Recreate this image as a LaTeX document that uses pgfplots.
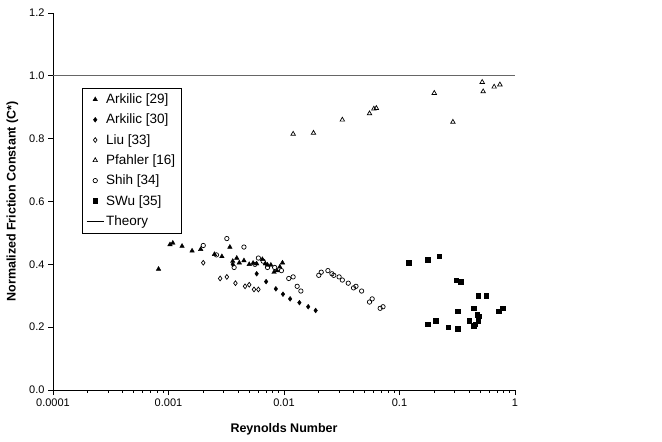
\documentclass[border=0pt]{standalone}
\usepackage{fontspec}
\setmainfont{Liberation Sans}
\usepackage{pgfplots}
\pgfplotsset{compat=1.18}

\begin{document}
\begin{tikzpicture}
\begin{axis}[
  name=ax, scale only axis, width=462pt, height=377pt,
  xmode=log, xmin=0.0001, xmax=1, ymin=0, ymax=1.2,
  axis lines=left, axis line style={-, line width=0.8pt},
  tick align=outside, major tick length=5pt, tick style={black, line width=0.8pt},
  xtick={0.0001,0.001,0.01,0.1,1},
  xticklabels={0.0001,0.001,0.01,0.1,1},
  minor xtick={},
  ytick={0,0.2,0.4,0.6,0.8,1.0,1.2},
  yticklabel style={/pgf/number format/.cd,fixed,fixed zerofill,precision=1},
  /pgf/number format/assume math mode=true,
  ticklabel style={font=\fontsize{11}{13}\selectfont},
  xlabel={\textbf{Reynolds Number}},
  ylabel={\textbf{Normalized Friction Constant (C*)}},
  label style={font=\fontsize{12.5}{15}\selectfont},
  xlabel style={yshift=-10pt},
  ylabel style={yshift=4pt},
  legend style={at={(rel axis cs:0.063,0.802)}, anchor=north west, draw=black,
    font=\fontsize{13.5}{16}\selectfont, row sep=5pt, inner sep=4pt},
  legend cell align=left,
  clip=false,
]
\coordinate (O) at (rel axis cs:0,0);
% Arkilic [29]
\addplot[only marks, mark=triangle*, mark size=2.6pt, black] coordinates {
(0.00082,0.385) (0.00103,0.463) (0.00109,0.468) (0.00131,0.458) (0.0016,0.443)
(0.0019,0.448) (0.0025,0.432) (0.0029,0.425) (0.0034,0.455) (0.0036,0.410)
(0.0039,0.420) (0.0041,0.405) (0.0045,0.412) (0.0050,0.400) (0.0054,0.404)
(0.0058,0.402) (0.0065,0.416) (0.0072,0.398) (0.0077,0.398) (0.0082,0.375)
(0.0087,0.380) (0.0092,0.392) (0.0097,0.405) (0.0069,0.402)
};
% Arkilic [30]
\addplot[only marks, mark=diamond*, mark size=2.4pt, black] coordinates {
(0.0036,0.400) (0.0058,0.370) (0.0070,0.345) (0.0085,0.322) (0.0098,0.305)
(0.0113,0.290) (0.0136,0.278) (0.0162,0.265) (0.0188,0.253)
};
% Liu [33]
\addplot[only marks, mark=diamond, mark size=2.4pt, black, mark options={line width=0.7pt}] coordinates {
(0.0020,0.405) (0.0028,0.355) (0.0038,0.340) (0.0046,0.330) (0.0055,0.320)
(0.0060,0.320) (0.0032,0.360) (0.0050,0.335)
};
% Pfahler [16]
\addplot[only marks, mark=triangle, mark size=2.6pt, black, mark options={line width=0.7pt}] coordinates {
(0.012,0.815) (0.018,0.818) (0.032,0.860) (0.055,0.880) (0.060,0.895)
(0.063,0.897) (0.20,0.945) (0.29,0.853) (0.52,0.980) (0.53,0.950)
(0.66,0.965) (0.74,0.972)
};
% Shih [34]
\addplot[only marks, mark=o, mark size=2.2pt, black, mark options={line width=0.7pt}] coordinates {
(0.0020,0.460) (0.0026,0.430) (0.0032,0.482) (0.0037,0.390) (0.0045,0.455)
(0.0056,0.400) (0.0060,0.420) (0.0066,0.410) (0.0072,0.390) (0.0083,0.390)
(0.0095,0.380) (0.011,0.355) (0.012,0.360) (0.013,0.330) (0.014,0.315)
(0.020,0.365) (0.021,0.375) (0.024,0.380) (0.026,0.370) (0.027,0.365)
(0.030,0.360) (0.032,0.350) (0.036,0.340) (0.040,0.325) (0.042,0.330)
(0.047,0.315) (0.055,0.280) (0.058,0.290) (0.068,0.260) (0.072,0.265)
};
% SWu [35]
\addplot[only marks, mark=square*, mark size=2.2pt, black] coordinates {
(0.12,0.405) (0.175,0.415) (0.22,0.425) (0.31,0.350) (0.34,0.345)
(0.48,0.300) (0.56,0.300) (0.175,0.210) (0.205,0.220) (0.265,0.200)
(0.32,0.195) (0.32,0.250) (0.40,0.220) (0.44,0.205) (0.44,0.260)
(0.47,0.240) (0.48,0.220) (0.49,0.235) (0.45,0.210) (0.72,0.250) (0.78,0.260)
};
% Theory
\addplot[black!60, line width=1.2pt, forget plot] coordinates {(0.0001,1) (1,1)};
\addlegendimage{black, line width=0.8pt}
\legend{Arkilic [29]\hspace{5pt},Arkilic [30],Liu [33],Pfahler [16],Shih [34],SWu [35],Theory}
\end{axis}
\pgfresetboundingbox
\path[use as bounding box] (O) ++(-53pt,-52pt) rectangle ++(662pt,442pt);
\end{tikzpicture}
\end{document}
